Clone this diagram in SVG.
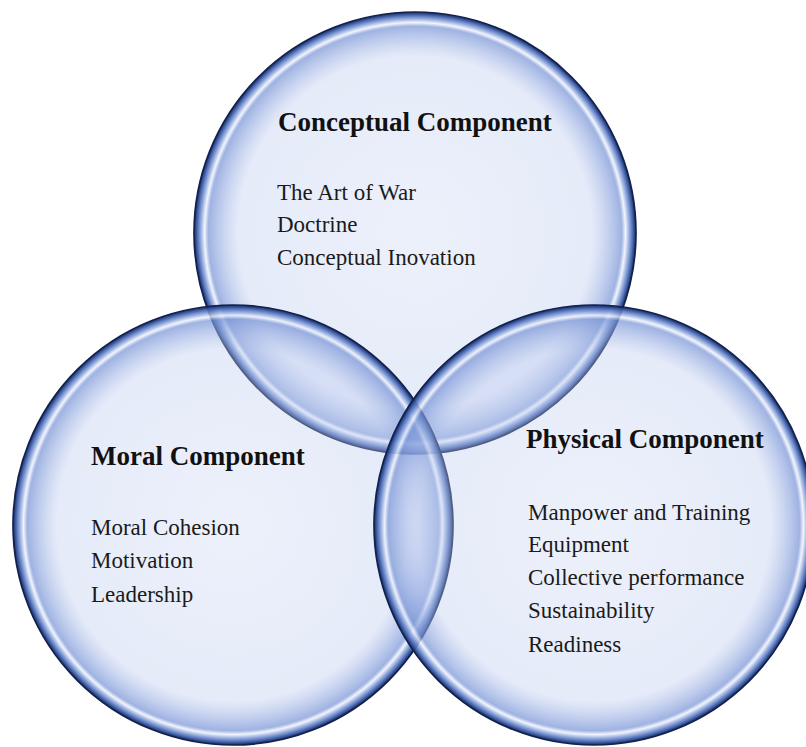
<svg xmlns="http://www.w3.org/2000/svg" width="806" height="747" viewBox="0 0 806 747">
  <defs>
    <!-- glassy bubble: pale translucent core, blue inner glow, highlight ring and dark rim -->
    <radialGradient id="bubble" cx="50%" cy="50%" r="50%">
      <stop offset="0" stop-color="#c4d2f3" stop-opacity="0.32"/>
      <stop offset="0.80" stop-color="#bccaee" stop-opacity="0.38"/>
      <stop offset="0.89" stop-color="#8ea6df" stop-opacity="0.6"/>
      <stop offset="0.935" stop-color="#7a95d6" stop-opacity="0.72"/>
      <stop offset="0.952" stop-color="#eef2fc" stop-opacity="0.8"/>
      <stop offset="0.97" stop-color="#7f9bd8" stop-opacity="0.85"/>
      <stop offset="0.988" stop-color="#3656a2" stop-opacity="0.95"/>
      <stop offset="1" stop-color="#17285a" stop-opacity="1"/>
    </radialGradient>
    <style>
      .bubble { fill: url(#bubble); stroke: #13214c; stroke-width: 1.7; }
      .head { font-family: "Liberation Serif", "Times New Roman", serif; font-weight: bold; font-size: 27px; fill: #111; }
      .item { font-family: "Liberation Serif", "Times New Roman", serif; font-size: 23px; fill: #1a1a1a; }
    </style>
  </defs>

  <rect width="806" height="747" fill="#ffffff"/>

  <g id="conceptual">
    <circle class="bubble" cx="415" cy="233" r="221"/>
    <text class="head" x="278" y="131">Conceptual Component</text>
    <text class="item" x="277" y="200">The Art of War</text>
    <text class="item" x="277" y="232">Doctrine</text>
    <text class="item" x="277" y="265">Conceptual Inovation</text>
  </g>

  <g id="moral">
    <circle class="bubble" cx="233" cy="525" r="220"/>
    <text class="head" x="91" y="465">Moral Component</text>
    <text class="item" x="91" y="535">Moral Cohesion</text>
    <text class="item" x="91" y="568">Motivation</text>
    <text class="item" x="91" y="602">Leadership</text>
  </g>

  <g id="physical">
    <circle class="bubble" cx="594" cy="525" r="220"/>
    <text class="head" x="526" y="448">Physical Component</text>
    <text class="item" x="528" y="520">Manpower and Training</text>
    <text class="item" x="528" y="552">Equipment</text>
    <text class="item" x="528" y="585">Collective performance</text>
    <text class="item" x="528" y="618">Sustainability</text>
    <text class="item" x="528" y="652">Readiness</text>
  </g>
</svg>
